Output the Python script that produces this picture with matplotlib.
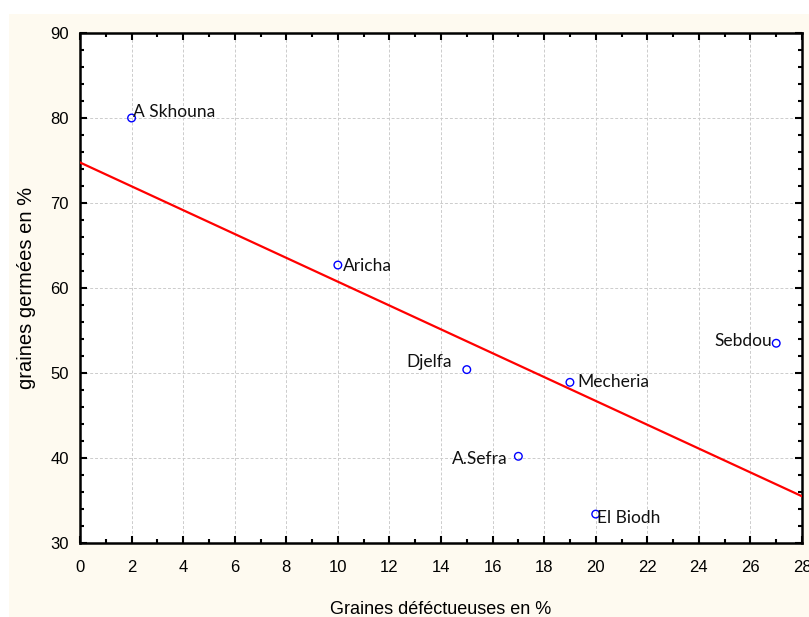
import matplotlib.pyplot as plt
from matplotlib.patches import Rectangle
from matplotlib.ticker import MultipleLocator
import numpy as np

# data
sites = ['A Skhouna', 'Aricha', 'Djelfa', 'Mecheria', 'A.Sefra', 'El Biodh', 'Sebdou']
defect = [2, 10, 15, 19, 17, 20, 27]
germ = [80.0, 62.7, 50.4, 48.9, 40.2, 33.4, 53.5]
# label offsets (pixels) and alignment
offsets = {'A Skhouna': (1, 6, 'left'), 'Aricha': (5, -1, 'left'), 'Djelfa': (-15, 8, 'right'),
           'Mecheria': (7, 0, 'left'), 'A.Sefra': (-11, -3, 'right'), 'El Biodh': (1, -4, 'left'),
           'Sebdou': (-4, 2, 'right')}

W, H = 809, 617
fig = plt.figure(figsize=(W / 100, H / 100), dpi=100)
fig.patch.set_facecolor('white')
fig.patches.append(Rectangle((9 / W, 0), 1 - 9 / W, (H - 14) / H, transform=fig.transFigure,
                             facecolor='#fefaf0', edgecolor='none', zorder=-10))

ax = fig.add_axes([80 / W, (H - 543) / H, (802 - 80) / W, (543 - 33) / H])
ax.set_facecolor('white')

slope, icpt = np.polyfit(defect, germ, 1)
xs = np.array([0, 28])
ax.plot(xs, icpt + slope * xs, color='#ff0000', lw=1.6, zorder=3)
ax.scatter(defect, germ, s=30, facecolors='none', edgecolors='#0000ff', linewidths=1.0, zorder=4)

lab_font = ['Lato', 'DejaVu Sans']
for name, x, y in zip(sites, defect, germ):
    dx, dy, ha = offsets[name]
    ax.annotate(name, (x, y), xytext=(dx, dy), textcoords='offset pixels', ha=ha, va='center',
                fontsize=12.5, family=lab_font, color='#111111', zorder=5)

ax.set_xlim(0, 28)
ax.set_ylim(30, 90)
ax.xaxis.set_major_locator(MultipleLocator(2))
ax.xaxis.set_minor_locator(MultipleLocator(1))
ax.yaxis.set_major_locator(MultipleLocator(10))
ax.yaxis.set_minor_locator(MultipleLocator(2))
ax.grid(True, which='major', color='#cccccc', ls='--', lw=0.7, dashes=(3, 2))
ax.set_axisbelow(True)
for sp in ax.spines.values():
    sp.set_linewidth(1.8)
ax.tick_params(which='both', direction='in', top=True, right=True, width=1.5)
ax.tick_params(which='major', length=5, labelsize=12, pad=8)
ax.tick_params(axis='x', which='major', pad=12)
ax.tick_params(which='minor', length=3)
tick_font = ['Liberation Sans Narrow', 'Liberation Sans', 'DejaVu Sans']
for t in ax.get_xticklabels() + ax.get_yticklabels():
    t.set_family(tick_font)

ax.set_xlabel('Graines déféctueuses en %', fontsize=13, family=tick_font, labelpad=19)
ax.set_ylabel('graines germées en %', fontsize=14.5, family=['Liberation Sans', 'DejaVu Sans'], labelpad=10)

fig.savefig('out.png', dpi=100)
